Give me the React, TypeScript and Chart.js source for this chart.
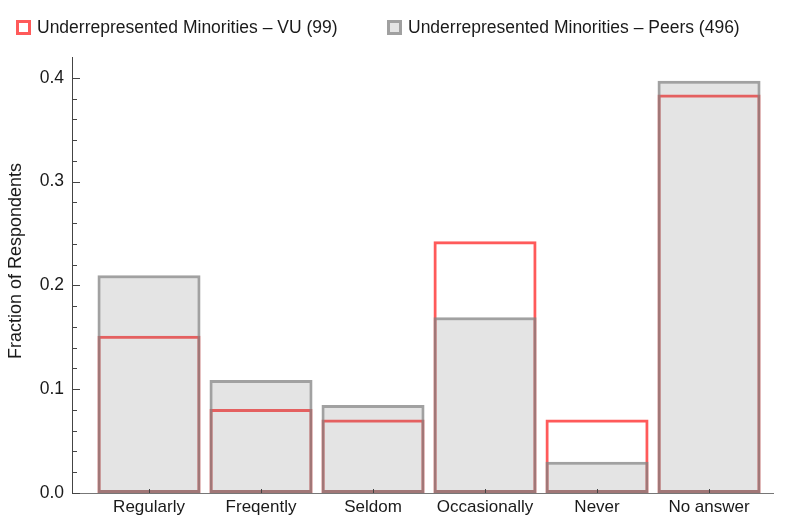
import React, { useEffect, useRef } from "react";
import { Chart, registerables } from "chart.js";

Chart.register(...registerables);

const categories = ["Regularly", "Freqently", "Seldom", "Occasionally", "Never", "No answer"];
const vuValues = [0.1515, 0.0808, 0.0707, 0.2424, 0.0707, 0.3838];
const peerValues = [0.2097, 0.1089, 0.0847, 0.1694, 0.0302, 0.3972];
const yMajorTicks = [0, 0.1, 0.2, 0.3, 0.4];
const yMinorTicks = [0.02, 0.04, 0.06, 0.08, 0.12, 0.14, 0.16, 0.18, 0.22, 0.24, 0.26, 0.28, 0.32, 0.34, 0.36, 0.38];
const vuLabel = "Underrepresented Minorities – VU (99)";
const peerLabel = "Underrepresented Minorities – Peers (496)";
const yTitle = "Fraction of Respondents";

const FONT = "'Liberation Sans', Arial, Helvetica, sans-serif";
const VU_BORDER = "rgb(255,90,90)";
const PEER_BG = "rgba(120,120,120,0.2)";
const PEER_BORDER = "rgba(130,130,130,0.75)";

const innerTicks = {
  id: "innerTicks",
  afterDatasetsDraw(chart: any) {
    const { ctx, chartArea } = chart;
    const y = chart.scales.y;
    const x = chart.scales.x;
    ctx.save();
    ctx.strokeStyle = "#444";
    ctx.lineWidth = 1;
    ctx.beginPath();
    yMajorTicks.forEach((v) => {
      const p = Math.round(y.getPixelForValue(v)) + 0.5;
      ctx.moveTo(chartArea.left, p);
      ctx.lineTo(chartArea.left + 8, p);
    });
    yMinorTicks.forEach((v) => {
      const p = Math.round(y.getPixelForValue(v)) + 0.5;
      ctx.moveTo(chartArea.left, p);
      ctx.lineTo(chartArea.left + 5, p);
    });
    categories.forEach((_, i) => {
      const p = Math.round(x.getPixelForValue(i + 1)) + 0.5;
      ctx.moveTo(p, chartArea.bottom);
      ctx.lineTo(p, chartArea.bottom - 4);
    });
    ctx.stroke();
    ctx.restore();
  },
  afterDraw(chart: any) {
    const { ctx } = chart;
    ctx.save();
    ctx.translate(8, 253);
    ctx.rotate(-Math.PI / 2);
    ctx.font = `18px ${FONT}`;
    ctx.fillStyle = "#1a1a1a";
    ctx.textAlign = "center";
    ctx.textBaseline = "middle";
    ctx.fillText(yTitle, 0, 0);
    ctx.restore();
  },
};

export default function App() {
  const ref = useRef<HTMLCanvasElement | null>(null);

  useEffect(() => {
    if (!ref.current) return;
    const chart = new Chart(ref.current, {
      type: "bar",
      data: {
        datasets: [
          {
            label: vuLabel,
            data: vuValues.map((v, i) => ({ x: i + 1, y: v })),
            backgroundColor: "rgba(0,0,0,0)",
            borderColor: VU_BORDER,
            borderWidth: 3,
            borderSkipped: false,
            grouped: false,
            order: 1,
          } as any,
          {
            label: peerLabel,
            data: peerValues.map((v, i) => ({ x: i + 1, y: v })),
            backgroundColor: PEER_BG,
            borderColor: PEER_BORDER,
            borderWidth: 3,
            borderSkipped: false,
            grouped: false,
            order: 0,
          } as any,
        ],
      },
      options: {
        animation: false,
        responsive: true,
        maintainAspectRatio: false,
        layout: { padding: { top: 49, right: 17, bottom: 0, left: 0 } },
        datasets: { bar: { categoryPercentage: 1, barPercentage: 0.92 } } as any,
        plugins: {
          legend: { display: false },
          tooltip: { enabled: false },
        },
        scales: {
          x: {
            type: "linear",
            offset: false,
            min: 0.3125,
            max: 6.571,
            grid: { display: false, drawTicks: false, offset: false },
            border: { display: true, color: "#777", width: 1 },
            afterBuildTicks: (s: any) => {
              s.ticks = categories.map((_, i) => ({ value: i + 1 }));
            },
            afterFit: (s: any) => {
              s.height = 32;
            },
            ticks: {
              autoSkip: false,
              maxRotation: 0,
              padding: 4,
              color: "#1a1a1a",
              font: { family: FONT, size: 17 },
              callback: (v: any) => categories[Math.round(Number(v)) - 1] ?? "",
            },
          },
          y: {
            type: "linear",
            min: 0,
            max: 0.42,
            grid: { display: false, drawTicks: false },
            border: { display: true, color: "#444", width: 1 },
            afterBuildTicks: (s: any) => {
              s.ticks = yMajorTicks.map((v) => ({ value: v }));
            },
            afterFit: (s: any) => {
              s.width = 64;
            },
            ticks: {
              padding: 8,
              color: "#1a1a1a",
              font: { family: FONT, size: 17.5 },
              callback: (v: any) => Number(v).toFixed(1),
            },
          },
        },
      },
      plugins: [innerTicks],
    });
    return () => chart.destroy();
  }, []);

  const itemStyle: React.CSSProperties = {
    position: "absolute",
    top: 12,
    height: 14,
    display: "flex",
    alignItems: "center",
    fontFamily: FONT,
    fontSize: 17.5,
    color: "#1a1a1a",
    whiteSpace: "nowrap",
  };
  const box = (border: string, bg: string): React.CSSProperties => ({
    width: 15,
    height: 15,
    boxSizing: "border-box",
    border: `3px solid ${border}`,
    background: bg,
    marginRight: 6,
    flex: "none",
  });

  return (
    <div style={{ position: "relative", width: 782, height: 517 }}>
      <canvas ref={ref} />
      <div style={{ ...itemStyle, left: 8 }}>
        <span style={box(VU_BORDER, "#fff")} />
        <span>{vuLabel}</span>
      </div>
      <div style={{ ...itemStyle, left: 379 }}>
        <span style={box("rgb(160,160,160)", "#e4e4e4")} />
        <span>{peerLabel}</span>
      </div>
    </div>
  );
}
